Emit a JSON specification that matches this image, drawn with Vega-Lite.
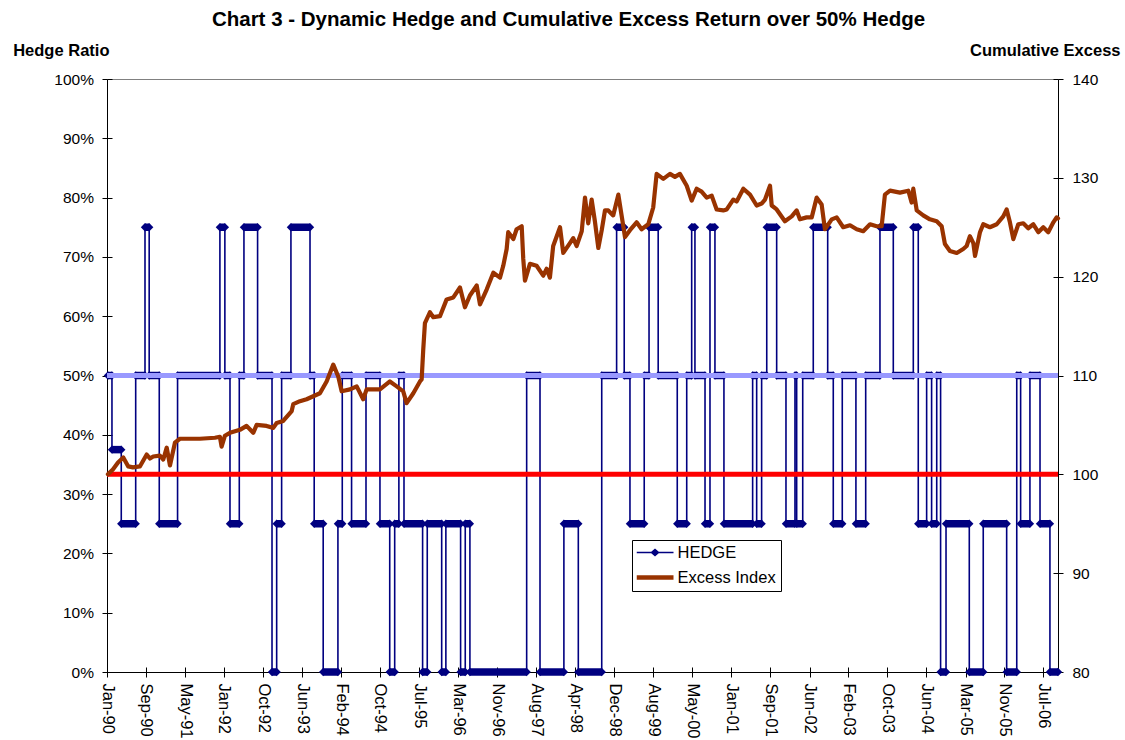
{
  "$schema": "https://vega.github.io/schema/vega-lite/v6.json",
  "width": 951,
  "height": 593,
  "autosize": "none",
  "padding": {"left": 107, "top": 79, "right": 67, "bottom": 68},
  "background": "white",
  "title": {"text": "Chart 3 - Dynamic Hedge and Cumulative Excess Return over 50% Hedge", "font": "Liberation Sans", "fontSize": 20.5, "fontWeight": "bold", "color": "black", "anchor": "middle", "frame": "group", "dx": -14, "offset": 12},
  "layer": [
    {
      "data": {"format": {"parse": {"s": "date:'%Y-%j'", "e": "date:'%Y-%j'"}}, "values": [
        {"s": "1990-010", "e": "1990-036", "h": 0.5},
        {"s": "1990-036", "e": "1990-096", "h": 0.375},
        {"s": "1990-096", "e": "1990-189", "h": 0.25},
        {"s": "1990-189", "e": "1990-249", "h": 0.5},
        {"s": "1990-249", "e": "1990-276", "h": 0.75},
        {"s": "1990-276", "e": "1990-341", "h": 0.5},
        {"s": "1990-341", "e": "1991-094", "h": 0.25},
        {"s": "1991-094", "e": "1992-002", "h": 0.5},
        {"s": "1992-002", "e": "1992-034", "h": 0.75},
        {"s": "1992-034", "e": "1992-067", "h": 0.5},
        {"s": "1992-067", "e": "1992-127", "h": 0.25},
        {"s": "1992-127", "e": "1992-157", "h": 0.5},
        {"s": "1992-157", "e": "1992-245", "h": 0.75},
        {"s": "1992-245", "e": "1992-338", "h": 0.5},
        {"s": "1992-338", "e": "1993-002", "h": 0},
        {"s": "1993-002", "e": "1993-034", "h": 0.25},
        {"s": "1993-034", "e": "1993-094", "h": 0.5},
        {"s": "1993-094", "e": "1993-217", "h": 0.75},
        {"s": "1993-217", "e": "1993-244", "h": 0.5},
        {"s": "1993-244", "e": "1993-302", "h": 0.25},
        {"s": "1993-302", "e": "1994-032", "h": 0},
        {"s": "1994-032", "e": "1994-060", "h": 0.25},
        {"s": "1994-060", "e": "1994-120", "h": 0.5},
        {"s": "1994-120", "e": "1994-213", "h": 0.25},
        {"s": "1994-213", "e": "1994-303", "h": 0.5},
        {"s": "1994-303", "e": "1995-001", "h": 0.25},
        {"s": "1995-001", "e": "1995-033", "h": 0},
        {"s": "1995-033", "e": "1995-060", "h": 0.25},
        {"s": "1995-060", "e": "1995-093", "h": 0.5},
        {"s": "1995-093", "e": "1995-213", "h": 0.25},
        {"s": "1995-213", "e": "1995-243", "h": 0},
        {"s": "1995-243", "e": "1995-336", "h": 0.25},
        {"s": "1995-336", "e": "1995-363", "h": 0},
        {"s": "1995-363", "e": "1996-093", "h": 0.25},
        {"s": "1996-093", "e": "1996-123", "h": 0},
        {"s": "1996-123", "e": "1996-153", "h": 0.25},
        {"s": "1996-153", "e": "1997-153", "h": 0},
        {"s": "1997-153", "e": "1997-239", "h": 0.5},
        {"s": "1997-239", "e": "1998-028", "h": 0},
        {"s": "1998-028", "e": "1998-121", "h": 0.25},
        {"s": "1998-121", "e": "1998-272", "h": 0},
        {"s": "1998-272", "e": "1999-003", "h": 0.5},
        {"s": "1999-003", "e": "1999-052", "h": 0.75},
        {"s": "1999-052", "e": "1999-089", "h": 0.5},
        {"s": "1999-089", "e": "1999-181", "h": 0.25},
        {"s": "1999-181", "e": "1999-212", "h": 0.5},
        {"s": "1999-212", "e": "1999-271", "h": 0.75},
        {"s": "1999-271", "e": "2000-029", "h": 0.5},
        {"s": "2000-029", "e": "2000-090", "h": 0.25},
        {"s": "2000-090", "e": "2000-122", "h": 0.5},
        {"s": "2000-122", "e": "2000-143", "h": 0.75},
        {"s": "2000-143", "e": "2000-208", "h": 0.5},
        {"s": "2000-208", "e": "2000-240", "h": 0.25},
        {"s": "2000-240", "e": "2000-272", "h": 0.75},
        {"s": "2000-272", "e": "2000-330", "h": 0.5},
        {"s": "2000-330", "e": "2001-149", "h": 0.25},
        {"s": "2001-149", "e": "2001-175", "h": 0.5},
        {"s": "2001-175", "e": "2001-207", "h": 0.25},
        {"s": "2001-207", "e": "2001-240", "h": 0.5},
        {"s": "2001-240", "e": "2001-304", "h": 0.75},
        {"s": "2001-304", "e": "2001-364", "h": 0.5},
        {"s": "2001-364", "e": "2002-057", "h": 0.25},
        {"s": "2002-057", "e": "2002-068", "h": 0.5},
        {"s": "2002-068", "e": "2002-107", "h": 0.25},
        {"s": "2002-107", "e": "2002-175", "h": 0.5},
        {"s": "2002-175", "e": "2002-268", "h": 0.75},
        {"s": "2002-268", "e": "2002-304", "h": 0.5},
        {"s": "2002-304", "e": "2002-362", "h": 0.25},
        {"s": "2002-362", "e": "2003-085", "h": 0.5},
        {"s": "2003-085", "e": "2003-148", "h": 0.25},
        {"s": "2003-148", "e": "2003-240", "h": 0.5},
        {"s": "2003-240", "e": "2003-326", "h": 0.75},
        {"s": "2003-326", "e": "2004-090", "h": 0.5},
        {"s": "2004-090", "e": "2004-122", "h": 0.75},
        {"s": "2004-122", "e": "2004-176", "h": 0.25},
        {"s": "2004-176", "e": "2004-208", "h": 0.5},
        {"s": "2004-208", "e": "2004-241", "h": 0.25},
        {"s": "2004-241", "e": "2004-266", "h": 0.5},
        {"s": "2004-266", "e": "2004-301", "h": 0},
        {"s": "2004-301", "e": "2005-085", "h": 0.25},
        {"s": "2005-085", "e": "2005-175", "h": 0},
        {"s": "2005-175", "e": "2005-326", "h": 0.25},
        {"s": "2005-326", "e": "2006-026", "h": 0},
        {"s": "2006-026", "e": "2006-051", "h": 0.5},
        {"s": "2006-051", "e": "2006-111", "h": 0.25},
        {"s": "2006-111", "e": "2006-176", "h": 0.5},
        {"s": "2006-176", "e": "2006-240", "h": 0.25},
        {"s": "2006-240", "e": "2006-292", "h": 0}
      ]},
      "layer": [
        {
          "transform": [{"fold": ["s", "e"], "as": ["k", "d"]}],
          "mark": {"type": "line", "strokeWidth": 1.6},
          "encoding": {
            "x": {"field": "d", "type": "temporal",
              "scale": {"domain": [{"year": 1990, "month": 1, "date": 4}, {"year": 2006, "month": 10, "date": 19}], "nice": false},
              "axis": {"orient": "bottom", "title": null, "grid": false, "format": "%b-%y", "labelAngle": 90, "labelAlign": "left", "labelBaseline": "middle", "labelPadding": 6, "labelFont": "Liberation Sans", "labelFontSize": 16.5, "labelColor": "black", "labelOverlap": false, "labelFlush": false, "labelBound": false, "tickSize": 5, "tickColor": "black", "domainColor": "black",
                "values": [
                  {"year": 1990, "month": 1, "date": 4}, {"year": 1990, "month": 9, "date": 12}, {"year": 1991, "month": 5, "date": 22},
                  {"year": 1992, "month": 1, "date": 28}, {"year": 1992, "month": 10, "date": 6}, {"year": 1993, "month": 6, "date": 15},
                  {"year": 1994, "month": 2, "date": 21}, {"year": 1994, "month": 10, "date": 30}, {"year": 1995, "month": 7, "date": 9},
                  {"year": 1996, "month": 3, "date": 17}, {"year": 1996, "month": 11, "date": 23}, {"year": 1997, "month": 8, "date": 2},
                  {"year": 1998, "month": 4, "date": 10}, {"year": 1998, "month": 12, "date": 18}, {"year": 1999, "month": 8, "date": 26},
                  {"year": 2000, "month": 5, "date": 4}, {"year": 2001, "month": 1, "date": 10}, {"year": 2001, "month": 9, "date": 19},
                  {"year": 2002, "month": 6, "date": 2}, {"year": 2003, "month": 2, "date": 4}, {"year": 2003, "month": 10, "date": 14},
                  {"year": 2004, "month": 6, "date": 21}, {"year": 2005, "month": 3, "date": 2}, {"year": 2005, "month": 11, "date": 6},
                  {"year": 2006, "month": 7, "date": 16}
                ]}
            },
            "y": {"field": "h", "type": "quantitative", "scale": {"domain": [0, 1], "nice": false, "zero": false},
              "axis": {"orient": "left", "values": [0, 0.1, 0.2, 0.3, 0.4, 0.5, 0.6, 0.7, 0.8, 0.9, 1], "format": ".0%", "grid": false,
                "title": "Hedge Ratio", "titleAngle": 0, "titleAlign": "left", "titleBaseline": "alphabetic", "titleX": -94.3, "titleY": -24,
                "titleFont": "Liberation Sans", "titleFontSize": 16.5, "titleFontWeight": "bold", "titleColor": "black",
                "labelFont": "Liberation Sans", "labelFontSize": 15.5, "labelColor": "black", "labelPadding": 8.5, "labelFlush": false,
                "tickSize": 5, "tickColor": "black", "domainColor": "black"}},
            "order": [{"field": "d", "type": "temporal"}, {"field": "k", "type": "nominal"}],
            "color": {"datum": "HEDGE", "type": "nominal",
              "scale": {"domain": ["HEDGE", "Excess Index"], "range": ["#000080", "#993300"]},
              "legend": {"title": null, "orient": "none", "legendX": 525, "legendY": 461, "direction": "vertical",
                "strokeColor": "black", "fillColor": "white", "padding": 4.5, "labelFont": "Liberation Sans", "labelFontSize": 16.5,
                "labelColor": "black", "labelOffset": 4, "rowPadding": 8, "clipHeight": 16, "symbolSize": 1369,
                "encode": {"symbols": {"update": {
                  "shape": {"signal": "datum.value === 'HEDGE' ? 'M-1,-0.045L1,-0.045L1,0.045L-1,0.045Z M-0.25,0L0,-0.21L0.25,0L0,0.21Z' : 'M-1,-0.115L1,-0.115L1,0.115L-1,0.115Z'"},
                  "fill": {"signal": "datum.value === 'HEDGE' ? '#000080' : '#993300'"},
                  "fillOpacity": {"value": 1},
                  "strokeWidth": {"value": 0},
                  "size": {"value": 1369}
                }}}}
            }
          }
        },
        {
          "mark": {"type": "rule", "color": "#000080", "strokeWidth": 7.5},
          "encoding": {
            "x": {"field": "s", "type": "temporal", "scale": {"domain": [{"year": 1990, "month": 1, "date": 4}, {"year": 2006, "month": 10, "date": 19}], "nice": false},
              "axis": {"orient": "bottom", "title": null, "grid": false, "format": "%b-%y", "labelAngle": 90, "labelAlign": "left", "labelBaseline": "middle", "labelPadding": 6, "labelFont": "Liberation Sans", "labelFontSize": 16.5, "labelColor": "black", "labelOverlap": false, "labelFlush": false, "labelBound": false, "tickSize": 5, "tickColor": "black", "domainColor": "black",
                "values": [
                  {"year": 1990, "month": 1, "date": 4}, {"year": 1990, "month": 9, "date": 12}, {"year": 1991, "month": 5, "date": 22},
                  {"year": 1992, "month": 1, "date": 28}, {"year": 1992, "month": 10, "date": 6}, {"year": 1993, "month": 6, "date": 15},
                  {"year": 1994, "month": 2, "date": 21}, {"year": 1994, "month": 10, "date": 30}, {"year": 1995, "month": 7, "date": 9},
                  {"year": 1996, "month": 3, "date": 17}, {"year": 1996, "month": 11, "date": 23}, {"year": 1997, "month": 8, "date": 2},
                  {"year": 1998, "month": 4, "date": 10}, {"year": 1998, "month": 12, "date": 18}, {"year": 1999, "month": 8, "date": 26},
                  {"year": 2000, "month": 5, "date": 4}, {"year": 2001, "month": 1, "date": 10}, {"year": 2001, "month": 9, "date": 19},
                  {"year": 2002, "month": 6, "date": 2}, {"year": 2003, "month": 2, "date": 4}, {"year": 2003, "month": 10, "date": 14},
                  {"year": 2004, "month": 6, "date": 21}, {"year": 2005, "month": 3, "date": 2}, {"year": 2005, "month": 11, "date": 6},
                  {"year": 2006, "month": 7, "date": 16}
                ]}},
            "x2": {"field": "e"},
            "y": {"field": "h", "type": "quantitative", "scale": {"domain": [0, 1], "nice": false, "zero": false},
              "axis": {"orient": "left", "values": [0, 0.1, 0.2, 0.3, 0.4, 0.5, 0.6, 0.7, 0.8, 0.9, 1], "labels": false, "domain": false, "grid": false, "title": null, "tickSize": -5, "tickColor": "black"}}
          }
        },
        {
          "transform": [{"fold": ["s", "e"], "as": ["k", "d"]}],
          "mark": {"type": "point", "shape": "diamond", "filled": true, "size": 70, "color": "#000080", "opacity": 1},
          "encoding": {
            "x": {"field": "d", "type": "temporal", "scale": {"domain": [{"year": 1990, "month": 1, "date": 4}, {"year": 2006, "month": 10, "date": 19}], "nice": false},
              "axis": {"orient": "bottom", "title": null, "grid": false, "format": "%b-%y", "labelAngle": 90, "labelAlign": "left", "labelBaseline": "middle", "labelPadding": 6, "labelFont": "Liberation Sans", "labelFontSize": 16.5, "labelColor": "black", "labelOverlap": false, "labelFlush": false, "labelBound": false, "tickSize": 5, "tickColor": "black", "domainColor": "black",
                "values": [
                  {"year": 1990, "month": 1, "date": 4}, {"year": 1990, "month": 9, "date": 12}, {"year": 1991, "month": 5, "date": 22},
                  {"year": 1992, "month": 1, "date": 28}, {"year": 1992, "month": 10, "date": 6}, {"year": 1993, "month": 6, "date": 15},
                  {"year": 1994, "month": 2, "date": 21}, {"year": 1994, "month": 10, "date": 30}, {"year": 1995, "month": 7, "date": 9},
                  {"year": 1996, "month": 3, "date": 17}, {"year": 1996, "month": 11, "date": 23}, {"year": 1997, "month": 8, "date": 2},
                  {"year": 1998, "month": 4, "date": 10}, {"year": 1998, "month": 12, "date": 18}, {"year": 1999, "month": 8, "date": 26},
                  {"year": 2000, "month": 5, "date": 4}, {"year": 2001, "month": 1, "date": 10}, {"year": 2001, "month": 9, "date": 19},
                  {"year": 2002, "month": 6, "date": 2}, {"year": 2003, "month": 2, "date": 4}, {"year": 2003, "month": 10, "date": 14},
                  {"year": 2004, "month": 6, "date": 21}, {"year": 2005, "month": 3, "date": 2}, {"year": 2005, "month": 11, "date": 6},
                  {"year": 2006, "month": 7, "date": 16}
                ]}},
            "y": {"field": "h", "type": "quantitative", "scale": {"domain": [0, 1], "nice": false, "zero": false}, "axis": null}
          }
        },
        {
          "data": {"values": [{"ref": 0.5}]},
          "mark": {"type": "rule", "color": "#9999FF", "strokeWidth": 5},
          "encoding": {
            "y": {"field": "ref", "type": "quantitative", "scale": {"domain": [0, 1], "nice": false, "zero": false}, "axis": null}
          }
        }
      ],
      "resolve": {"axis": {"y": "independent"}}
    },
    {
      "layer": [
        {
          "data": {"values": [{"ref": 100}]},
          "mark": {"type": "rule", "color": "#FF0000", "strokeWidth": 5},
          "encoding": {
            "y": {"field": "ref", "type": "quantitative", "scale": {"domain": [80, 140], "nice": false, "zero": false},
              "axis": {"orient": "right", "values": [80, 90, 100, 110, 120, 130, 140], "grid": false,
                "title": "Cumulative Excess", "titleAngle": 0, "titleAlign": "right", "titleBaseline": "alphabetic", "titleX": 62, "titleY": -24,
                "titleFont": "Liberation Sans", "titleFontSize": 16.5, "titleFontWeight": "bold", "titleColor": "black",
                "labelFont": "Liberation Sans", "labelFontSize": 15.5, "labelColor": "black", "labelPadding": 9, "labelFlush": false,
                "tickSize": 5, "tickColor": "black", "domainColor": "black"}}
          }
        },
        {
          "data": {"format": {"parse": {"t": "date:'%Y-%j'"}}, "values": [
            {"t": "1990-010", "v": 100.0}, {"t": "1990-042", "v": 100.5}, {"t": "1990-075", "v": 101.2}, {"t": "1990-109", "v": 101.7},
            {"t": "1990-141", "v": 100.8}, {"t": "1990-171", "v": 100.7}, {"t": "1990-216", "v": 100.8}, {"t": "1990-260", "v": 102.0},
            {"t": "1990-281", "v": 101.6}, {"t": "1990-302", "v": 101.8}, {"t": "1990-345", "v": 101.9}, {"t": "1991-002", "v": 101.5},
            {"t": "1991-024", "v": 102.7}, {"t": "1991-045", "v": 100.9}, {"t": "1991-077", "v": 103.2}, {"t": "1991-109", "v": 103.6},
            {"t": "1991-238", "v": 103.6}, {"t": "1991-335", "v": 103.7}, {"t": "1992-002", "v": 103.8}, {"t": "1992-013", "v": 102.8},
            {"t": "1992-034", "v": 103.9}, {"t": "1992-067", "v": 104.2}, {"t": "1992-131", "v": 104.5}, {"t": "1992-174", "v": 104.9},
            {"t": "1992-217", "v": 104.2}, {"t": "1992-239", "v": 105.0}, {"t": "1992-303", "v": 104.9}, {"t": "1992-346", "v": 104.7},
            {"t": "1993-002", "v": 105.2}, {"t": "1993-044", "v": 105.4}, {"t": "1993-099", "v": 106.4}, {"t": "1993-109", "v": 107.1},
            {"t": "1993-152", "v": 107.4}, {"t": "1993-195", "v": 107.6}, {"t": "1993-238", "v": 107.9}, {"t": "1993-281", "v": 108.2},
            {"t": "1993-324", "v": 109.4}, {"t": "1994-002", "v": 111.1}, {"t": "1994-034", "v": 109.9}, {"t": "1994-056", "v": 108.4},
            {"t": "1994-110", "v": 108.6}, {"t": "1994-153", "v": 108.9}, {"t": "1994-195", "v": 107.6}, {"t": "1994-217", "v": 108.6},
            {"t": "1994-303", "v": 108.6}, {"t": "1995-002", "v": 109.4}, {"t": "1995-046", "v": 108.9}, {"t": "1995-088", "v": 108.4},
            {"t": "1995-110", "v": 107.2}, {"t": "1995-153", "v": 108.2}, {"t": "1995-196", "v": 109.4}, {"t": "1995-207", "v": 109.6},
            {"t": "1995-217", "v": 112.6}, {"t": "1995-228", "v": 115.3}, {"t": "1995-260", "v": 116.4}, {"t": "1995-282", "v": 115.9},
            {"t": "1995-325", "v": 116.0}, {"t": "1996-003", "v": 117.7}, {"t": "1996-046", "v": 117.9}, {"t": "1996-089", "v": 118.9},
            {"t": "1996-121", "v": 116.9}, {"t": "1996-153", "v": 118.1}, {"t": "1996-197", "v": 119.1}, {"t": "1996-218", "v": 117.2},
            {"t": "1996-261", "v": 118.7}, {"t": "1996-304", "v": 120.4}, {"t": "1996-347", "v": 119.9}, {"t": "1997-002", "v": 121.1},
            {"t": "1997-024", "v": 122.8}, {"t": "1997-034", "v": 124.5}, {"t": "1997-067", "v": 123.8}, {"t": "1997-088", "v": 124.8},
            {"t": "1997-121", "v": 125.1}, {"t": "1997-131", "v": 121.8}, {"t": "1997-142", "v": 119.6}, {"t": "1997-174", "v": 121.3},
            {"t": "1997-217", "v": 121.1}, {"t": "1997-260", "v": 120.1}, {"t": "1997-282", "v": 120.8}, {"t": "1997-303", "v": 119.9},
            {"t": "1997-324", "v": 123.1}, {"t": "1998-003", "v": 125.0}, {"t": "1998-024", "v": 122.4}, {"t": "1998-067", "v": 123.4},
            {"t": "1998-088", "v": 123.9}, {"t": "1998-110", "v": 123.1}, {"t": "1998-143", "v": 124.6}, {"t": "1998-164", "v": 128.0},
            {"t": "1998-185", "v": 125.4}, {"t": "1998-207", "v": 127.8}, {"t": "1998-228", "v": 125.6}, {"t": "1998-250", "v": 122.9},
            {"t": "1998-272", "v": 124.7}, {"t": "1998-293", "v": 126.7}, {"t": "1998-314", "v": 126.7}, {"t": "1998-346", "v": 126.2},
            {"t": "1999-014", "v": 128.3}, {"t": "1999-035", "v": 126.2}, {"t": "1999-057", "v": 124.0}, {"t": "1999-089", "v": 124.7},
            {"t": "1999-132", "v": 125.5}, {"t": "1999-164", "v": 124.8}, {"t": "1999-207", "v": 125.3}, {"t": "1999-239", "v": 127.0},
            {"t": "1999-261", "v": 130.4}, {"t": "1999-304", "v": 129.9}, {"t": "1999-347", "v": 130.4}, {"t": "2000-014", "v": 130.1},
            {"t": "2000-046", "v": 130.4}, {"t": "2000-090", "v": 129.2}, {"t": "2000-122", "v": 127.7}, {"t": "2000-154", "v": 128.9},
            {"t": "2000-186", "v": 128.6}, {"t": "2000-219", "v": 128.0}, {"t": "2000-251", "v": 128.2}, {"t": "2000-283", "v": 126.8},
            {"t": "2000-326", "v": 126.7}, {"t": "2000-348", "v": 126.8}, {"t": "2001-024", "v": 127.8}, {"t": "2001-046", "v": 127.6},
            {"t": "2001-089", "v": 128.9}, {"t": "2001-132", "v": 128.3}, {"t": "2001-175", "v": 127.2}, {"t": "2001-207", "v": 127.4},
            {"t": "2001-229", "v": 127.8}, {"t": "2001-261", "v": 129.2}, {"t": "2001-272", "v": 127.2}, {"t": "2001-304", "v": 126.8},
            {"t": "2001-357", "v": 125.6}, {"t": "2002-036", "v": 126.1}, {"t": "2002-068", "v": 126.7}, {"t": "2002-089", "v": 125.8},
            {"t": "2002-132", "v": 126.0}, {"t": "2002-165", "v": 126.0}, {"t": "2002-197", "v": 128.0}, {"t": "2002-229", "v": 127.3},
            {"t": "2002-250", "v": 124.8}, {"t": "2002-294", "v": 125.8}, {"t": "2002-326", "v": 126.0}, {"t": "2003-003", "v": 125.0},
            {"t": "2003-047", "v": 125.2}, {"t": "2003-090", "v": 124.8}, {"t": "2003-132", "v": 124.6}, {"t": "2003-176", "v": 125.3},
            {"t": "2003-219", "v": 125.1}, {"t": "2003-251", "v": 125.1}, {"t": "2003-272", "v": 128.3}, {"t": "2003-305", "v": 128.7},
            {"t": "2004-004", "v": 128.5}, {"t": "2004-058", "v": 128.7}, {"t": "2004-079", "v": 127.5}, {"t": "2004-090", "v": 128.9},
            {"t": "2004-112", "v": 126.7}, {"t": "2004-154", "v": 126.2}, {"t": "2004-197", "v": 125.8}, {"t": "2004-241", "v": 125.6},
            {"t": "2004-273", "v": 125.1}, {"t": "2004-294", "v": 123.3}, {"t": "2004-326", "v": 122.6}, {"t": "2005-004", "v": 122.4},
            {"t": "2005-046", "v": 122.8}, {"t": "2005-068", "v": 123.1}, {"t": "2005-089", "v": 124.1}, {"t": "2005-111", "v": 123.4},
            {"t": "2005-122", "v": 122.1}, {"t": "2005-154", "v": 124.5}, {"t": "2005-175", "v": 125.3}, {"t": "2005-218", "v": 125.0},
            {"t": "2005-262", "v": 125.3}, {"t": "2005-304", "v": 126.1}, {"t": "2005-326", "v": 126.8}, {"t": "2005-347", "v": 125.5},
            {"t": "2006-004", "v": 123.8}, {"t": "2006-036", "v": 125.3}, {"t": "2006-068", "v": 125.4}, {"t": "2006-100", "v": 124.9},
            {"t": "2006-133", "v": 125.3}, {"t": "2006-165", "v": 124.5}, {"t": "2006-197", "v": 125.0}, {"t": "2006-229", "v": 124.5},
            {"t": "2006-262", "v": 125.5}, {"t": "2006-283", "v": 126.0}, {"t": "2006-292", "v": 125.9}
          ]},
          "mark": {"type": "line", "strokeWidth": 4.2, "strokeJoin": "round", "strokeCap": "round"},
          "encoding": {
            "x": {"field": "t", "type": "temporal", "scale": {"domain": [{"year": 1990, "month": 1, "date": 4}, {"year": 2006, "month": 10, "date": 19}], "nice": false},
              "axis": {"orient": "bottom", "title": null, "grid": false, "labels": false, "labelOverlap": false, "domain": false, "tickSize": -5, "tickColor": "black",
                "values": [
                  {"year": 1990, "month": 1, "date": 4}, {"year": 1990, "month": 9, "date": 12}, {"year": 1991, "month": 5, "date": 22},
                  {"year": 1992, "month": 1, "date": 28}, {"year": 1992, "month": 10, "date": 6}, {"year": 1993, "month": 6, "date": 15},
                  {"year": 1994, "month": 2, "date": 21}, {"year": 1994, "month": 10, "date": 30}, {"year": 1995, "month": 7, "date": 9},
                  {"year": 1996, "month": 3, "date": 17}, {"year": 1996, "month": 11, "date": 23}, {"year": 1997, "month": 8, "date": 2},
                  {"year": 1998, "month": 4, "date": 10}, {"year": 1998, "month": 12, "date": 18}, {"year": 1999, "month": 8, "date": 26},
                  {"year": 2000, "month": 5, "date": 4}, {"year": 2001, "month": 1, "date": 10}, {"year": 2001, "month": 9, "date": 19},
                  {"year": 2002, "month": 6, "date": 2}, {"year": 2003, "month": 2, "date": 4}, {"year": 2003, "month": 10, "date": 14},
                  {"year": 2004, "month": 6, "date": 21}, {"year": 2005, "month": 3, "date": 2}, {"year": 2005, "month": 11, "date": 6},
                  {"year": 2006, "month": 7, "date": 16}
                ]}},
            "y": {"field": "v", "type": "quantitative", "scale": {"domain": [80, 140], "nice": false, "zero": false},
              "axis": {"orient": "right", "values": [80, 90, 100, 110, 120, 130, 140], "labels": false, "domain": false, "grid": false, "title": null, "tickSize": -5, "tickColor": "black"}},
            "color": {"datum": "Excess Index", "type": "nominal"}
          }
        }
      ],
      "resolve": {"axis": {"y": "independent"}}
    }
  ],
  "resolve": {"scale": {"y": "independent"}, "axis": {"x": "independent", "y": "independent"}},
  "config": {
    "font": "Liberation Sans",
    "view": {"stroke": "#808080", "strokeWidth": 1},
    "axis": {"labelColor": "black", "titleColor": "black", "tickColor": "black", "domainColor": "black", "labelOverlap": false},
    "axisX": {"labelOverlap": false},
    "axisBottom": {"labelOverlap": false},
    "axisTemporal": {"labelOverlap": false}
  }
}
